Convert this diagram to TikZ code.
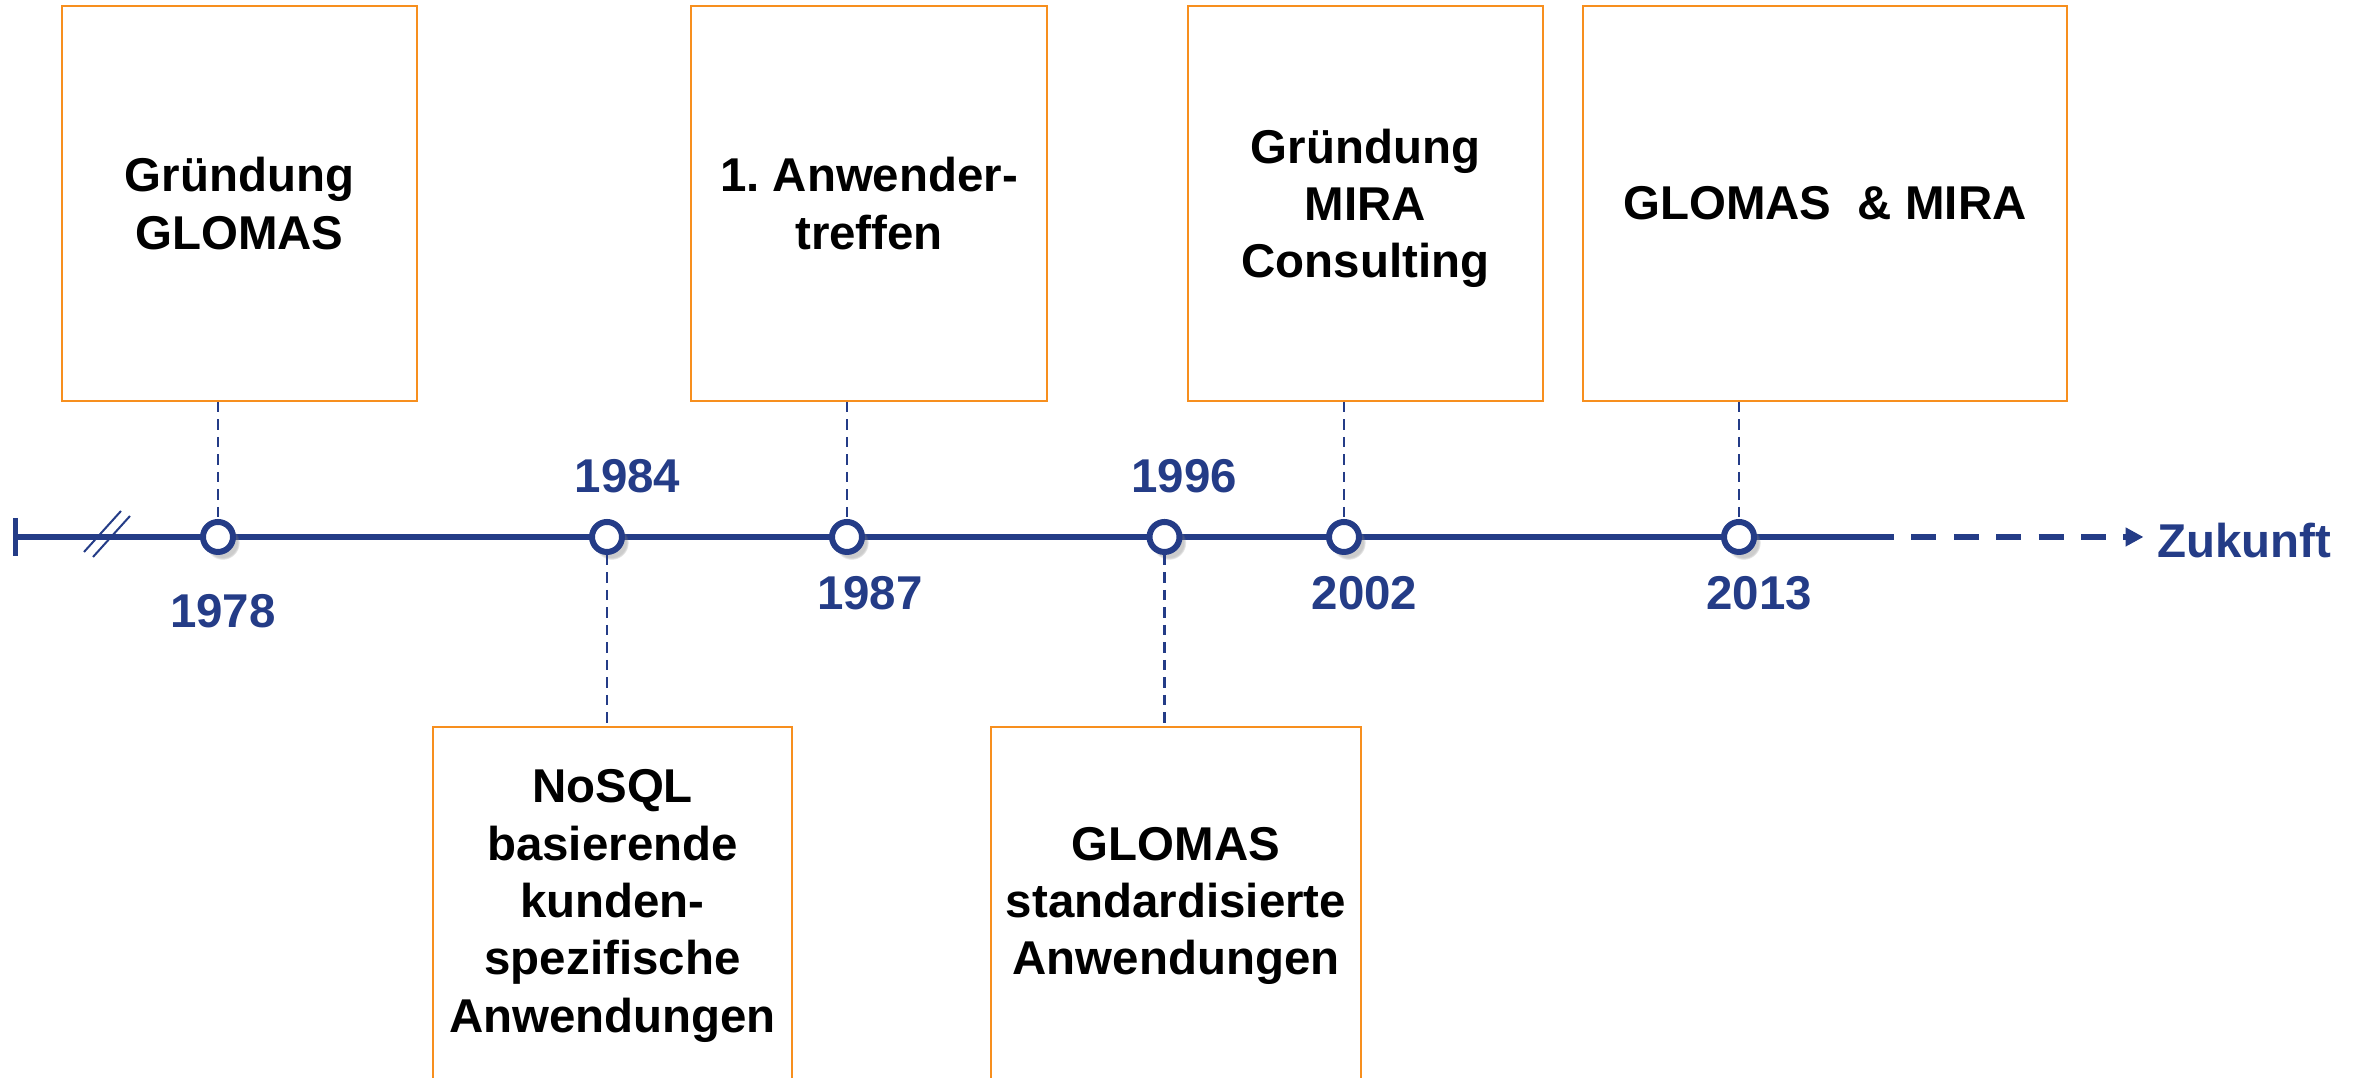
\documentclass[tikz,border=0pt]{standalone}
\usepackage{fontspec}
\setmainfont{Liberation Sans}
\usetikzlibrary{arrows.meta,shadows}
\definecolor{tlblue}{RGB}{36,60,135}
\definecolor{boxorange}{RGB}{247,143,30}
\tikzset{
	eventbox/.style={draw=boxorange, line width=0.02cm, rectangle, inner sep=0pt, align=center, minimum height=3.95cm, font=\fontsize{13.5}{16.3}\selectfont\bfseries},
	yearpoint/.style={draw=tlblue, fill=white, circle, line width=0.06cm, minimum size=0.3cm, inner sep=0pt, circular drop shadow={shadow xshift=0.04cm, shadow yshift=-0.05cm, shadow scale=1.15, opacity=0.4}},
	yearlabel/.style={text=tlblue, inner sep=0pt, font=\fontsize{13.5}{16.3}\selectfont\bfseries},
	eventlink/.style={draw=tlblue, line width=0.027cm, dash pattern=on 0.105cm off 0.07cm},
	timeline/.style={draw=tlblue, line width=0.06cm},
	futureline/.style={draw=tlblue, line width=0.06cm, dash pattern=on 0.25cm off 0.174cm, dash phase=0.25cm, shorten >=0.13cm, -{Triangle[length=0.18cm,width=0.18cm]}}
}
\begin{document}
\begin{tikzpicture}
				\useasboundingbox (0,-5.41) rectangle (23.64,5.37);
				\coordinate (S) at (0.155,0);
				\coordinate (E) at (18.94,0);
				\node[yearlabel, anchor=base west] (Z) at (21.565,-0.21) {Zukunft};
				\draw[timeline] (S) -- (E);
				\draw[tlblue, line width=0.05cm] ([yshift=0.19cm]S) -- ([yshift=-0.19cm]S);
				\draw[tlblue, line width=0.02cm] (0.84,-0.15) -- (1.21,0.26);
				\draw[tlblue, line width=0.02cm] (0.93,-0.20) -- (1.30,0.21);
				\draw[futureline] (E) -- (E -| Z.west);
				\node[yearpoint] (P1) at (2.18,0) {};
				\node[yearpoint] (P2) at (6.07,0) {};
				\node[yearpoint] (P3) at (8.47,0) {};
				\node[yearpoint] (P4) at (11.645,0) {};
				\node[yearpoint] (P5) at (13.44,0) {};
				\node[yearpoint] (P6) at (17.39,0) {};
				\node[yearlabel] (Y1) at (2.23,-0.74) {1978};
				\node[yearlabel] (Y2) at (6.275,0.61) {1984};
				\node[yearlabel] (Y3) at (8.70,-0.56) {1987};
				\node[yearlabel] (Y4) at (11.84,0.61) {1996};
				\node[yearlabel] (Y5) at (13.645,-0.56) {2002};
				\node[yearlabel] (Y6) at (17.59,-0.56) {2013};
				\node[eventbox, minimum width=3.55cm] (B1) at (2.395,3.335) {Gründung\\GLOMAS};
				\node[eventbox, minimum width=3.56cm] (B3) at (8.69,3.335) {1.\ Anwender-\\treffen};
				\node[eventbox, minimum width=3.55cm, text depth=0pt] (B5) at (13.655,3.335) {Gründung\\MIRA\\Consulting};
				\node[eventbox, minimum width=4.84cm] (B6) at (18.25,3.335) {GLOMAS\ \ \& MIRA};
				\node[eventbox, minimum width=3.59cm, minimum height=3.58cm] (B2) at (6.125,-3.69) {NoSQL\\basierende\\kunden-\\spezifische\\Anwendungen};
				\node[eventbox, minimum width=3.70cm, minimum height=3.58cm] (B4) at (11.76,-3.69) {GLOMAS\\standardisierte\\Anwendungen};
				\draw[eventlink] (B1.south -| P1) -- (P1.north);
				\draw[eventlink] (B3.south -| P3) -- (P3.north);
				\draw[eventlink] (B5.south -| P5) -- (P5.north);
				\draw[eventlink] (B6.south -| P6) -- (P6.north);
				\draw[eventlink] (P2.south) -- (B2.north -| P2);
				\draw[eventlink] (P4.south) -- (B4.north -| P4);
			\end{tikzpicture}
\end{document}
